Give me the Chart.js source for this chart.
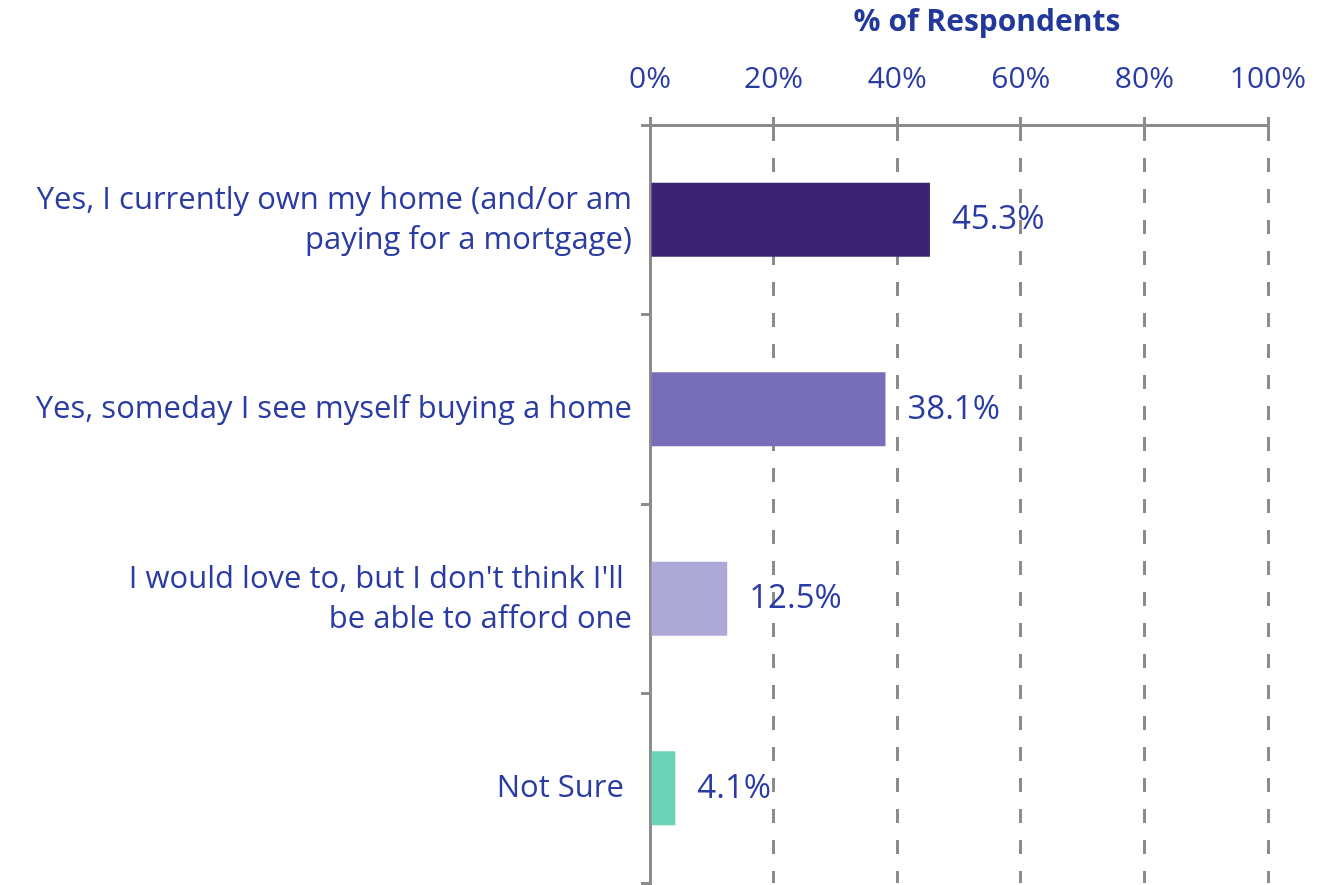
<!DOCTYPE html>
<html>
<head>
<meta charset="utf-8">
<script src="https://cdn.jsdelivr.net/npm/chart.js@4.4.1/dist/chart.umd.min.js"></script>
<style>
  html, body { margin: 0; padding: 0; background: #ffffff; }
  #wrap { width: 1317px; height: 885px; }
</style>
</head>
<body>
<div id="wrap"><canvas id="c" width="1317" height="885"></canvas></div>
<script>
const categories = [
  ["Yes, I currently own my home (and/or am", "paying for a mortgage)"],
  ["Yes, someday I see myself buying a home"],
  ["I would love to, but I don't think I'll ", "be able to afford one"],
  ["Not Sure "]
];
const values = [45.3, 38.1, 12.5, 4.1];
const barColors = ["#3B2471", "#776DB8", "#ACA9D7", "#6DD3B6"];
const axisTitle = "% of Respondents";
const tickSuffix = "%";

const FONT = "'Open Sans', Lato, sans-serif";
const TEXT = "#2A3BA3";
const GRID = "#8C8C8C";

const labelsPlugin = {
  id: 'valueLabels',
  afterDatasetsDraw(chart) {
    const ctx = chart.ctx;
    const meta = chart.getDatasetMeta(0);
    ctx.save();
    ctx.font = "33px " + FONT;
    ctx.fillStyle = TEXT;
    ctx.textAlign = "left";
    ctx.textBaseline = "middle";
    meta.data.forEach((bar, i) => {
      ctx.fillText(values[i].toFixed(1) + "%", bar.x + 22, bar.y);
    });
    ctx.restore();
  },
  afterDraw(chart) {
    const ctx = chart.ctx;
    ctx.save();
    ctx.font = "bold 30px " + FONT;
    ctx.fillStyle = "#22389A";
    ctx.textAlign = "center";
    ctx.textBaseline = "middle";
    ctx.fillText(axisTitle, 987, 22);
    ctx.restore();
  }
};

new Chart(document.getElementById('c'), {
  type: 'bar',
  data: {
    labels: categories,
    datasets: [{
      data: values,
      backgroundColor: barColors,
      borderWidth: 0,
      barPercentage: 0.39,
      categoryPercentage: 1.0
    }]
  },
  options: {
    indexAxis: 'y',
    responsive: false,
    animation: false,
    events: [],
    layout: { padding: { left: 0, right: 49, top: 0, bottom: 2 } },
    plugins: {
      legend: { display: false },
      tooltip: { enabled: false },
      title: { display: false }
    },
    scales: {
      x: {
        position: 'top',
        min: 0,
        max: 100,
        afterFit(scale) {
          scale.height = 125;
          scale.paddingLeft = 0; scale.paddingRight = 0;
        },
        ticks: {
          stepSize: 20,
          padding: 20,
          color: TEXT,
          font: { family: FONT, size: 30 },
          callback: (v) => v + tickSuffix
        },
        grid: {
          color: GRID,
          lineWidth: 3,
          tickLength: 8,
          drawTicks: true,
          tickBorderDash: []
        },
        border: {
          display: true,
          color: GRID,
          width: 3,
          dash: [14, 17]
        }
      },
      y: {
        afterFit(scale) {
          scale.width = 650;
          scale.paddingTop = 0; scale.paddingBottom = 0;
        },
        ticks: {
          padding: 9,
          color: TEXT,
          font: { family: FONT, size: 31, lineHeight: 1.29 }
        },
        grid: {
          display: true,
          drawOnChartArea: false,
          drawTicks: true,
          tickLength: 9,
          color: GRID,
          lineWidth: 3,
          offset: true
        },
        border: {
          display: true,
          color: GRID,
          width: 3
        }
      }
    }
  },
  plugins: [labelsPlugin]
});
</script>
</body>
</html>
